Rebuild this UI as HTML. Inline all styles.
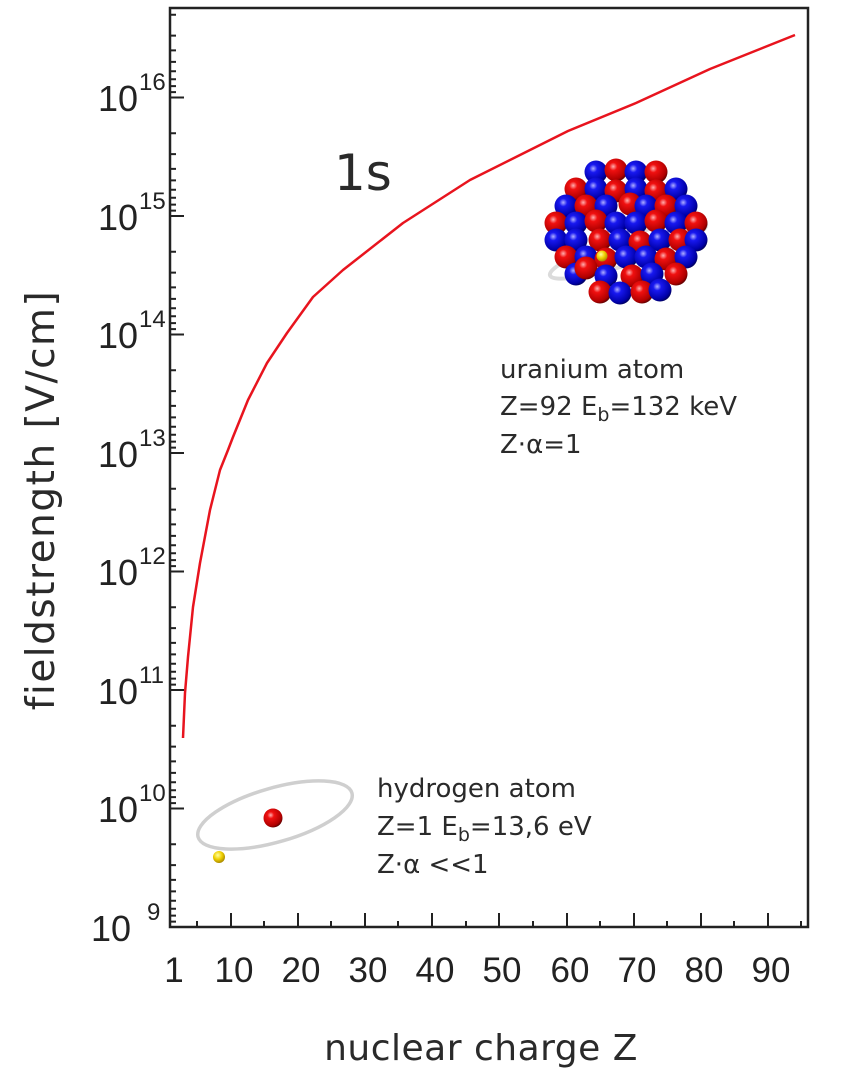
<!DOCTYPE html>
<html><head><meta charset="utf-8"><style>
html,body{margin:0;padding:0;background:#fff;}
svg{display:block;}
.tk{font-family:"Liberation Sans",Arial,sans-serif;fill:#222;}
.lb{font-family:"DejaVu Sans","Liberation Sans",sans-serif;fill:#2a2a2a;}
</style></head><body>
<svg width="860" height="1080" viewBox="0 0 860 1080" xmlns="http://www.w3.org/2000/svg">
<defs>
<radialGradient id="gr" cx="0.38" cy="0.35" r="0.7"><stop offset="0" stop-color="#ffb0b0"/><stop offset="0.25" stop-color="#f01010"/><stop offset="0.8" stop-color="#b00000"/><stop offset="1" stop-color="#500000"/></radialGradient>
<radialGradient id="gb" cx="0.38" cy="0.35" r="0.7"><stop offset="0" stop-color="#b0b0ff"/><stop offset="0.25" stop-color="#1818f0"/><stop offset="0.8" stop-color="#0000a8"/><stop offset="1" stop-color="#000050"/></radialGradient>
<radialGradient id="gy" cx="0.4" cy="0.35" r="0.7"><stop offset="0" stop-color="#ffffa0"/><stop offset="0.5" stop-color="#f0d000"/><stop offset="1" stop-color="#a08000"/></radialGradient>
<circle id="R" r="11.5" fill="url(#gr)"/>
<circle id="B" r="11.5" fill="url(#gb)"/>
</defs>

<rect x="170" y="8" width="638" height="919" fill="none" stroke="#222" stroke-width="2.5"/>

<g stroke="#222" stroke-width="2">
<path d="M170 97.5h14M170 216h14M170 334.5h14M170 453h14M170 571.5h14M170 690h14M170 808.5h14"/>
<path id="mn" d="M170 133.2h6M170 154.1h6M170 168.9h6M170 180.4h6M170 189.8h6M170 197.7h6M170 204.6h6M170 210.6h6"/>
<use href="#mn" y="-118.5"/>
<use href="#mn" y="118.5"/>
<use href="#mn" y="237"/>
<use href="#mn" y="355.5"/>
<use href="#mn" y="474"/>
<use href="#mn" y="592.5"/>
<use href="#mn" y="711"/>
</g>
<g stroke="#222" stroke-width="2">
<path d="M231 927v-14M298 927v-14M365 927v-14M432 927v-14M499 927v-14M567 927v-14M634 927v-14M701 927v-14M768 927v-14"/>
<path d="M197 927v-6M264 927v-6M331 927v-6M398 927v-6M466 927v-6M533 927v-6M600 927v-6M667 927v-6M734 927v-6M801 927v-6"/>
</g>

<g class="tk" font-size="36">
<text x="138" y="111" text-anchor="end">10</text><text x="139" y="90" font-size="24">16</text>
<text x="138" y="230" text-anchor="end">10</text><text x="139" y="209" font-size="24">15</text>
<text x="138" y="348" text-anchor="end">10</text><text x="139" y="327" font-size="24">14</text>
<text x="138" y="467" text-anchor="end">10</text><text x="139" y="446" font-size="24">13</text>
<text x="138" y="585" text-anchor="end">10</text><text x="139" y="564" font-size="24">12</text>
<text x="138" y="704" text-anchor="end">10</text><text x="139" y="683" font-size="24">11</text>
<text x="138" y="822" text-anchor="end">10</text><text x="139" y="801" font-size="24">10</text>
<text x="131" y="941" text-anchor="end">10</text><text x="147" y="920" font-size="24">9</text>
</g>
<g class="tk" font-size="35" text-anchor="middle">
<text x="174" y="982">1</text><text x="234" y="982">10</text><text x="301" y="982">20</text><text x="368" y="982">30</text><text x="435" y="982">40</text><text x="502" y="982">50</text><text x="570" y="982">60</text><text x="637" y="982">70</text><text x="704" y="982">80</text><text x="771" y="982">90</text>
</g>

<text class="lb" x="481" y="1060" font-size="36" text-anchor="middle" letter-spacing="0.5">nuclear charge Z</text>
<text class="lb" transform="translate(54,500) rotate(-90)" font-size="39" text-anchor="middle" letter-spacing="1.5">fieldstrength [V/cm]</text>
<text class="lb" x="334" y="190" font-size="50" fill="#222">1s</text>

<path fill="none" stroke="#e8141e" stroke-width="2.5" stroke-linejoin="round" d="M183,738 L185,693 L188,657 L193,607 L200,563 L210,510 L220,470 L228,450 L233,437 L248,400 L267,363 L287,333 L313,297 L343,270 L403,223 L470,180 L520,155 L568,131 L636,103 L710,69 L760,49 L795,35"/>

<ellipse cx="628" cy="250" rx="82" ry="14" transform="rotate(-18 628 250)" fill="none" stroke="#ccc" stroke-width="4" opacity="0.7"/>
<g>
<use href="#B" x="596" y="172"/><use href="#R" x="616" y="170"/><use href="#B" x="636" y="172"/><use href="#R" x="656" y="172"/>
<use href="#R" x="576" y="189"/><use href="#B" x="596" y="189"/><use href="#R" x="616" y="191"/><use href="#B" x="636" y="189"/><use href="#R" x="656" y="191"/><use href="#B" x="676" y="189"/>
<use href="#B" x="566" y="206"/><use href="#R" x="586" y="206"/><use href="#B" x="606" y="206"/><use href="#R" x="630" y="204"/><use href="#B" x="646" y="206"/><use href="#R" x="666" y="206"/><use href="#B" x="686" y="206"/>
<use href="#R" x="556" y="223"/><use href="#B" x="576" y="223"/><use href="#R" x="596" y="221"/><use href="#B" x="616" y="223"/><use href="#B" x="636" y="223"/><use href="#R" x="656" y="221"/><use href="#B" x="676" y="223"/><use href="#R" x="696" y="223"/>
<use href="#B" x="556" y="240"/><use href="#B" x="576" y="240"/><use href="#R" x="600" y="240"/><use href="#B" x="620" y="240"/><use href="#R" x="640" y="242"/><use href="#B" x="660" y="240"/><use href="#R" x="680" y="240"/><use href="#B" x="696" y="240"/>
<use href="#R" x="566" y="257"/><use href="#B" x="586" y="257"/><use href="#R" x="606" y="259"/><use href="#B" x="626" y="257"/><use href="#B" x="646" y="257"/><use href="#R" x="666" y="259"/><use href="#B" x="686" y="257"/>
<use href="#B" x="576" y="274"/><use href="#R" x="586" y="268"/><use href="#B" x="606" y="276"/><use href="#R" x="632" y="276"/><use href="#B" x="652" y="274"/><use href="#R" x="676" y="274"/>
<use href="#R" x="600" y="292"/><use href="#B" x="620" y="293"/><use href="#R" x="642" y="292"/><use href="#B" x="660" y="290"/>
</g>
<circle cx="602" cy="256" r="5.5" fill="url(#gy)"/>

<ellipse cx="275" cy="815" rx="80" ry="27" transform="rotate(-16 275 815)" fill="none" stroke="#cfcfcf" stroke-width="3.5"/>
<circle cx="273" cy="818" r="9.5" fill="url(#gr)"/>
<circle cx="219" cy="857" r="6" fill="url(#gy)"/>

<g class="lb" font-size="26">
<text x="500" y="378">uranium atom</text>
<text x="500" y="415">Z=92 E<tspan font-size="19" dy="6">b</tspan><tspan dy="-6">=132 keV</tspan></text>
<text x="500" y="453">Z·α=1</text>
<text x="377" y="797">hydrogen atom</text>
<text x="377" y="835">Z=1 E<tspan font-size="19" dy="6">b</tspan><tspan dy="-6">=13,6 eV</tspan></text>
<text x="377" y="873">Z·α &lt;&lt;1</text>
</g>
</svg>
</body></html>
